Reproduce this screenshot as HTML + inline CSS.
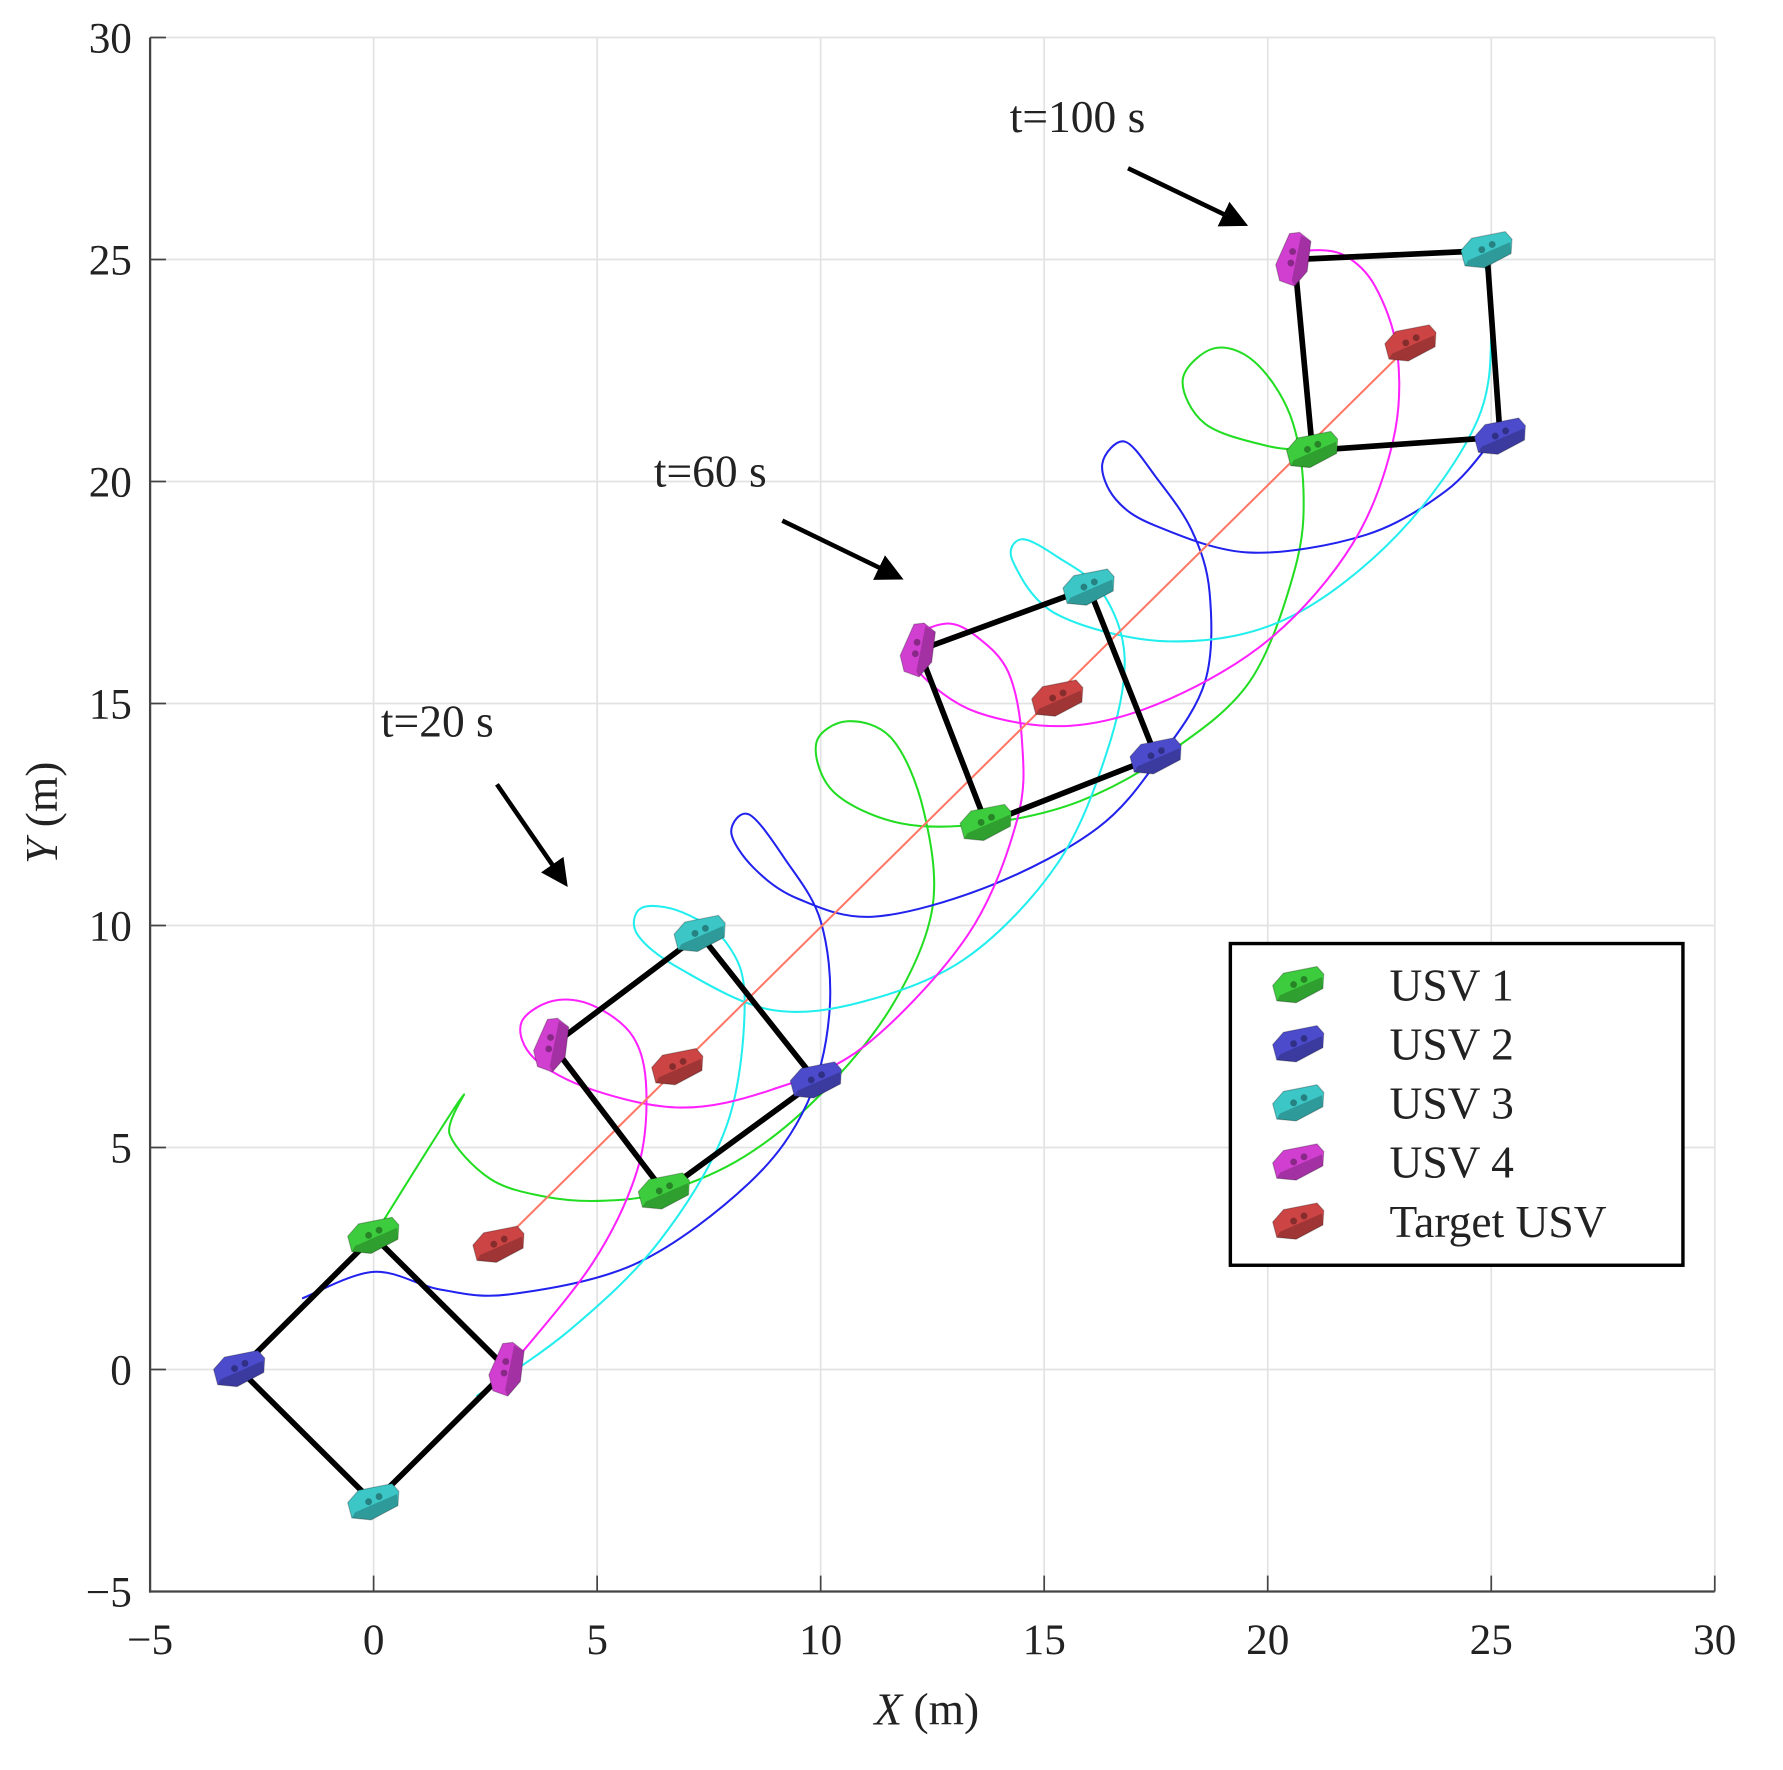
<!DOCTYPE html>
<html><head><meta charset="utf-8"><style>
html,body{margin:0;padding:0;background:#fff}
svg{display:block}
text{font-family:"Liberation Serif",serif;fill:#222}
</style></head><body>
<svg id="chart" width="1783" height="1770" viewBox="0 0 1568 1557" preserveAspectRatio="none" xmlns="http://www.w3.org/2000/svg">
<g id="grid"></g>
<g id="axes"></g>
<g id="series"></g>
<g id="forms"></g>
<g id="icons"></g>
<g id="annot"></g>
<g id="legend"></g>
</svg>
<script>
const xTicks=[-5,0,5,10,15,20,25,30];
const yTicks=[-5,0,5,10,15,20,25,30];
const targetPath=[[2.8,2.8],[23.2,23.1]];
const usv1Path=[[0,3],[1.95,6.1],[1.7,5.3],[2.6,4.3],[3.8,3.9],[5.1,3.8],[6.5,4.0],[8.3,4.8],[10,6.2],[11.6,8.2],[12.5,10.4],[12.3,12.6],[11.6,14.2],[10.6,14.6],[9.9,14.1],[10.3,13.0],[11.8,12.3],[13.7,12.3],[15.8,12.8],[17.8,13.9],[19.6,15.5],[20.6,18.0],[20.8,19.8],[20.5,21.5],[19.7,22.7],[18.8,23.0],[18.1,22.3],[18.6,21.3],[20.0,20.8],[21,20.7]];
const usv2Path=[[-1.6,1.6],[0,2.2],[1.5,1.8],[3.1,1.7],[5.9,2.4],[8.4,4.2],[9.7,6.0],[10.2,8.1],[10,10.1],[9.2,11.5],[8.4,12.5],[8.0,12.1],[8.5,11.3],[9.5,10.6],[11.2,10.2],[13.8,10.9],[16.2,12.2],[17.6,13.8],[18.6,15.5],[18.7,17.5],[18.3,18.9],[17.5,20.1],[16.8,20.9],[16.3,20.4],[16.6,19.6],[17.5,19.0],[19.6,18.4],[22.2,18.8],[24,19.8],[25,20.9]];
const usv3Path=[[2.3,-0.6],[4.4,0.9],[6.4,2.9],[7.9,5.5],[8.3,8.3],[7.9,9.6],[6.9,10.3],[6.0,10.4],[5.9,9.8],[6.9,9.0],[8.9,8.1],[11,8.3],[13.3,9.3],[15.3,11.4],[16.4,13.9],[16.8,16],[16.3,17.5],[15.3,18.3],[14.5,18.7],[14.3,18.2],[15.3,17.0],[17.8,16.4],[20.4,16.9],[22.9,18.8],[24.7,21.4],[25,23.7],[24.8,25.2]];
const usv4Path=[[3,0],[4.9,2.4],[5.9,4.5],[6.1,6.3],[5.8,7.5],[4.9,8.2],[4.0,8.3],[3.3,7.8],[3.6,7.0],[4.9,6.3],[6.9,5.9],[8.9,6.3],[11,7.3],[13.3,9.8],[14.4,12.4],[14.5,14.2],[14.2,15.7],[13.5,16.5],[12.8,16.8],[12.0,16.4],[12.2,15.7],[13.5,14.8],[15.6,14.5],[17.8,15.1],[20.1,16.5],[21.9,18.6],[22.8,20.9],[22.9,22.9],[22.4,24.4],[21.7,25.1],[20.9,25.2],[20.6,25]];
const form0=[[0,3],[-3,0],[0,-3],[3,0],[2.8,2.8]];
const form20=[[6.5,4.0],[9.9,6.5],[7.3,9.8],[4.0,7.3],[6.8,6.8]];
const form60=[[13.7,12.3],[17.5,13.8],[16.0,17.6],[12.2,16.2],[15.3,15.1]];
const form100=[[21.0,20.7],[25.2,21.0],[24.9,25.2],[20.6,25.0],[23.2,23.1]];
const legendLabels=["USV 1","USV 2","USV 3","USV 4","Target USV"];
const colors=["#3dcc3d","#4b4bcc","#3cc6c6","#d13fd1","#cc4444"];
const lineColors=["#22dd22","#2222ee","#22eeee","#ff22ff","#ff7766"];

const NS="http://www.w3.org/2000/svg";
const X0=132,X1=1508,Y0=1400,Y1=33;
function sx(v){return X0+(v+5)/35*(X1-X0);}
function sy(v){return Y0-(v+5)/35*(Y0-Y1);}
function mk(tag,attrs,parent){const e=document.createElementNS(NS,tag);for(const k in attrs)e.setAttribute(k,attrs[k]);parent.appendChild(e);return e;}
const grid=document.getElementById('grid'),axes=document.getElementById('axes'),series=document.getElementById('series'),forms=document.getElementById('forms'),icons=document.getElementById('icons'),annot=document.getElementById('annot'),legend=document.getElementById('legend');

xTicks.forEach(v=>{
  const g=mk('line',{x1:sx(v),x2:sx(v),y1:Y1,y2:Y0,stroke:'#e3e3e3','stroke-width':1.5},grid);
  
  
  const t=mk('line',{x1:sx(v),x2:sx(v),y1:Y0,y2:Y0-14,stroke:'#444','stroke-width':1.5},axes);
  
  
  const l=mk('text',{x:sx(v),y:1455,'font-size':38,'text-anchor':'middle'},axes);
  l.textContent=v<0?'\u2212'+(-v):String(v);
  
  
});
yTicks.forEach(v=>{
  const g=mk('line',{x1:X0,x2:X1,y1:sy(v),y2:sy(v),stroke:'#e3e3e3','stroke-width':1.5},grid);
  
  
  const t=mk('line',{x1:X0,x2:X0+14,y1:sy(v),y2:sy(v),stroke:'#444','stroke-width':1.5},axes);
  
  
  const l=mk('text',{x:116,y:sy(v)+13,'font-size':38,'text-anchor':'end'},axes);
  l.textContent=v<0?'\u2212'+(-v):String(v);
  
  
});
const ax1=mk('line',{x1:X0,x2:X0,y1:Y1,y2:Y0+1,stroke:'#444','stroke-width':2},axes);


const ax2=mk('line',{x1:X0-1,x2:X1,y1:Y0,y2:Y0,stroke:'#444','stroke-width':2},axes);


const xt=mk('text',{x:815,y:1517,'font-size':40,'text-anchor':'middle'},axes);
xt.innerHTML='<tspan font-style="italic">X</tspan> (m)';


const yt=mk('text',{x:0,y:0,'font-size':40,'text-anchor':'middle',transform:'translate(50,715) rotate(-90)'},axes);
yt.innerHTML='<tspan font-style="italic">Y</tspan> (m)';



function smooth(pts){
  const p=pts.map(q=>[sx(q[0]),sy(q[1])]);
  if(p.length<3)return 'M'+p.map(q=>q.join(',')).join('L');
  let d='M'+p[0][0]+','+p[0][1];
  for(let i=0;i<p.length-1;i++){
    const a=p[Math.max(0,i-1)],b=p[i],c=p[i+1],e=p[Math.min(p.length-1,i+2)];
    const c1=[b[0]+(c[0]-a[0])/6,b[1]+(c[1]-a[1])/6],c2=[c[0]-(e[0]-b[0])/6,c[1]-(e[1]-b[1])/6];
    d+='C'+c1.join(',')+' '+c2.join(',')+' '+c.join(',');
  }
  return d;
}
const paths=[usv1Path,usv2Path,usv3Path,usv4Path,targetPath];
const pnames=['usv1-trajectory','usv2-trajectory','usv3-trajectory','usv4-trajectory','target-trajectory'];
paths.forEach((p,i)=>{
  const e=mk('path',{d:smooth(p),fill:'none',stroke:lineColors[i],'stroke-width':1.8},series);
  
  
});

function ship(parent,x,y,col,rot){
  const g=mk('g',{transform:`translate(${x},${y}) rotate(${rot})`},parent);
  mk('path',{d:'M-22,-6 L-10,-14 L20,-12 L24,-4 L20,8 L-6,14 L-22,8 Z',fill:col,stroke:'rgba(0,0,0,0.25)','stroke-width':1},g);
  mk('path',{d:'M-18,4 L22,-2 L20,8 L-6,14 L-22,8 Z',fill:'rgba(0,0,0,0.22)'},g);
  mk('circle',{cx:-4,cy:-2,r:3,fill:'rgba(0,0,0,0.35)'},g);
  mk('circle',{cx:6,cy:-4,r:3,fill:'rgba(0,0,0,0.35)'},g);
  return g;
}
const fsets=[form0,form20,form60,form100];
const fnames=['formation-t0','formation-t20','formation-t60','formation-t100'];
fsets.forEach((f,k)=>{
  const order=[0,1,2,3,0];
  const e=mk('path',{d:'M'+order.map(i=>sx(f[i][0])+','+sy(f[i][1])).join('L'),fill:'none',stroke:'#000','stroke-width':5,'stroke-linejoin':'round'},forms);
  
  
  f.forEach((q,i)=>{
    const s=ship(icons,sx(q[0]),sy(q[1]),colors[i],i===3?-70:-15);
    
    
  });
});

const ann=[["t=20 s",335,648,437,690,503,783],["t=60 s",575,428,688,458,797,514],["t=100 s",888,116,992,148,1100,203]];
mk('defs',{},annot).innerHTML='<marker id="ah" markerWidth="6" markerHeight="6" refX="5" refY="3" orient="auto" markerUnits="strokeWidth"><path d="M0,0 L6,3 L0,6 Z" fill="#000"/></marker>';
ann.forEach(a=>{
  const t=mk('text',{x:a[1],y:a[2],'font-size':40},annot);
  t.textContent=a[0];
  
  
  const l=mk('line',{x1:a[3],y1:a[4],x2:a[5]-6,y2:a[6]-6,stroke:'#000','stroke-width':4,'marker-end':'url(#ah)'},annot);
  
  
});

const lb=mk('rect',{x:1082,y:830,width:398,height:283,fill:'#fff',stroke:'#000','stroke-width':3},legend);


legendLabels.forEach((s,i)=>{
  const y=867+i*52;
  const ic=ship(legend,1142,y,colors[i],-15);
  
  
  const t=mk('text',{x:1222,y:y+13,'font-size':40},legend);
  t.textContent=s;
  
  
});
</script>
</body></html>
